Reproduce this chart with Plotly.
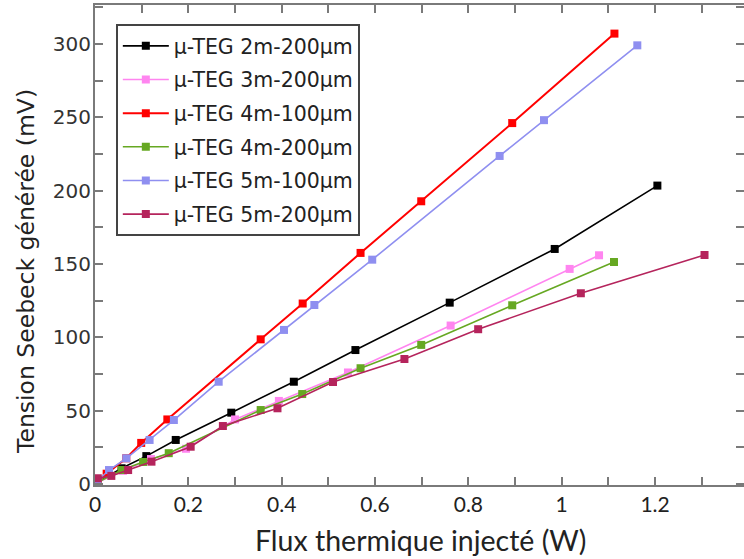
import plotly.graph_objects as go

names = ["µ-TEG 2m-200µm", "µ-TEG 3m-200µm", "µ-TEG 4m-100µm",
         "µ-TEG 4m-200µm", "µ-TEG 5m-100µm", "µ-TEG 5m-200µm"]
colors = ["#000000", "#ff85f0", "#ff0000", "#66a822", "#8f8ff0", "#b5245c"]

x_2m200 = [0.005, 0.057, 0.110, 0.173, 0.292, 0.426, 0.558, 0.760, 0.985, 1.205]
y_2m200 = [1.0, 10.7, 19.0, 30.0, 48.6, 69.7, 91.3, 123.6, 160.2, 203.4]

x_3m200 = [0.005, 0.060, 0.120, 0.195, 0.300, 0.394, 0.542, 0.762, 1.017, 1.080]
y_3m200 = [1.0, 9.0, 17.0, 24.0, 44.0, 56.6, 76.0, 108.0, 146.6, 155.9]

x_4m100 = [0.005, 0.025, 0.067, 0.099, 0.155, 0.355, 0.445, 0.569, 0.699, 0.894, 1.113]
y_4m100 = [2.0, 7.0, 17.5, 28.0, 44.0, 98.6, 123.0, 157.5, 192.7, 246.0, 307.0]

x_4m200 = [0.005, 0.057, 0.103, 0.158, 0.355, 0.444, 0.569, 0.699, 0.894, 1.112]
y_4m200 = [1.0, 9.5, 15.0, 21.0, 50.4, 61.3, 78.9, 94.8, 121.8, 151.3]

x_5m100 = [0.005, 0.030, 0.067, 0.117, 0.169, 0.265, 0.405, 0.470, 0.594, 0.867, 0.962, 1.162]
y_5m100 = [2.0, 9.5, 17.5, 30.0, 43.6, 69.7, 105.0, 122.0, 152.9, 223.6, 248.0, 299.0]

x_5m200 = [0.006, 0.035, 0.071, 0.121, 0.205, 0.274, 0.391, 0.510, 0.663, 0.821, 1.041, 1.306]
y_5m200 = [3.9, 5.5, 9.5, 15.2, 25.4, 39.5, 51.6, 69.5, 85.2, 105.5, 130.0, 156.1]

x_title = "Flux thermique injecté (W)"
y_title = "Tension Seebeck générée (mV)"

xs = [x_2m200, x_3m200, x_4m100, x_4m200, x_5m100, x_5m200]
ys = [y_2m200, y_3m200, y_4m100, y_4m200, y_5m100, y_5m200]

fig = go.Figure()
for i, (n, c, xv, yv) in enumerate(zip(names, colors, xs, ys)):
    fig.add_trace(go.Scatter(
        x=xv, y=yv, name=n, mode="lines+markers",
        line=dict(color=c, width=2 if i == 2 else 1.6),
        marker=dict(symbol="square", size=8, color=c),
        legendgroup="g%d" % i,
    ))

axis_col = "#7a7a7a"
fig.update_layout(
    width=744, height=559,
    margin=dict(l=95, r=0, t=5, b=74, autoexpand=False),
    paper_bgcolor="white", plot_bgcolor="white",
    showlegend=True,
    legend=dict(
        x=0.0324, y=0.960, xanchor="left", yanchor="top",
        bgcolor="white", bordercolor="#444444", borderwidth=1.8,
        font=dict(family="DejaVu Sans", size=20.5, color="#222222"),
        traceorder="grouped", tracegroupgap=4,
        itemwidth=46,
    ),
    xaxis=dict(
        range=[0, 1.3906], showgrid=False, zeroline=False, automargin=False,
        showline=True, linecolor=axis_col, linewidth=2, mirror="ticks",
        ticks="inside", ticklen=8, tickwidth=1.5, tickcolor=axis_col,
        dtick=0.2, tick0=0,
        minor=dict(dtick=0.1, ticks="inside", ticklen=8, tickwidth=1.5, tickcolor=axis_col),
        tickfont=dict(family="Lato", size=21, color="#222222"),
    ),
    yaxis=dict(
        range=[-0.7, 326.5], showgrid=False, zeroline=False, automargin=False,
        showline=True, linecolor=axis_col, linewidth=2, mirror="ticks",
        ticks="inside", ticklen=8, tickwidth=1.5, tickcolor=axis_col,
        dtick=50, tick0=0, ticklabelstandoff=-2,
        minor=dict(dtick=25, ticks="inside", ticklen=8, tickwidth=1.5, tickcolor=axis_col),
        tickfont=dict(family="DejaVu Sans", size=20, color="#333333"),
    ),
    annotations=[
        dict(text=x_title, xref="paper", yref="paper", x=0.5008, y=-0.1146,
             xanchor="center", yanchor="middle", showarrow=False,
             font=dict(family="Lato", size=28.5, color="#222222")),
        dict(text=y_title, xref="paper", yref="paper", x=-0.1063, y=0.444,
             xanchor="center", yanchor="middle", showarrow=False, textangle=-90,
             font=dict(family="DejaVu Sans", size=23.5, color="#222222")),
    ],
)

fig.write_html("out.html", config={"displayModeBar": False},
               post_script="document.body.style.margin='0';document.body.style.padding='0';")
